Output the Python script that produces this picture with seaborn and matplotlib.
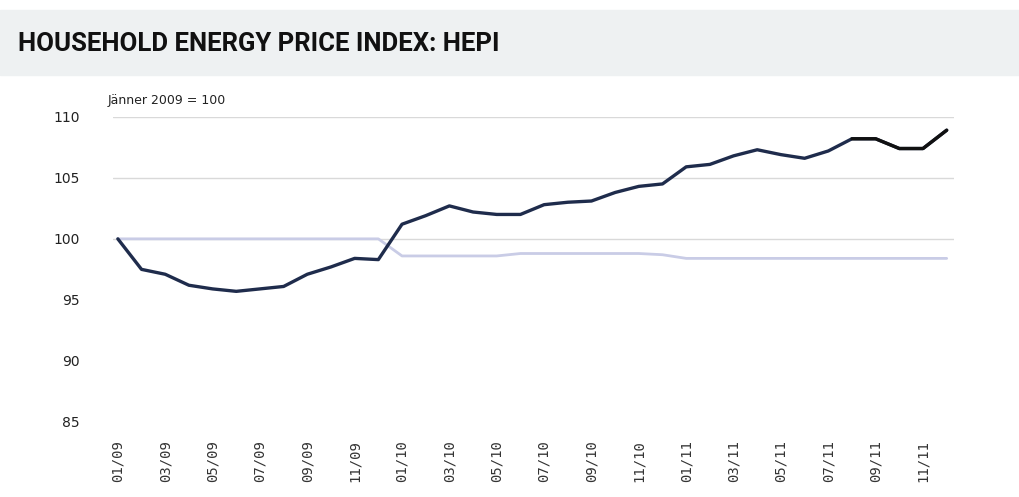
import matplotlib
matplotlib.use("Agg")
import matplotlib.pyplot as plt
import seaborn as sns
import pandas as pd
from matplotlib.patches import Rectangle

# -----------------------------
# Data
# -----------------------------
months = [f"{m:02d}/{y:02d}" for y in (9, 10, 11) for m in range(1, 13)]
hepi = [100.0, 97.5, 97.1, 96.2, 95.9, 95.7, 95.9, 96.1, 97.1, 97.7, 98.4, 98.3,
        101.2, 101.9, 102.7, 102.2, 102.0, 102.0, 102.8, 103.0, 103.1, 103.8, 104.3, 104.5,
        105.9, 106.1, 106.8, 107.3, 106.9, 106.6, 107.2, 108.2, 108.2, 107.4, 107.4, 108.9]
other = [100.0, 100.0, 100.0, 100.0, 100.0, 100.0, 100.0, 100.0, 100.0, 100.0, 100.0, 100.0,
         98.6, 98.6, 98.6, 98.6, 98.6, 98.8, 98.8, 98.8, 98.8, 98.8, 98.8, 98.7,
         98.4, 98.4, 98.4, 98.4, 98.4, 98.4, 98.4, 98.4, 98.4, 98.4, 98.4, 98.4]
yticks = [85, 90, 95, 100, 105, 110]
grid_levels = [100, 105, 110]
title = "HOUSEHOLD ENERGY PRICE INDEX: HEPI"
note = "Jänner 2009 = 100"

df = pd.DataFrame({"idx": range(len(months)), "month": months, "hepi": hepi, "other": other})

sns.set_style("white")

fig = plt.figure(figsize=(10.19, 4.97), dpi=100)
# grey band behind the title
fig.patches.append(Rectangle((0, 0.85), 1, 0.13, transform=fig.transFigure,
                             color="#eef1f2", zorder=0))
fig.text(0.018, 0.912, title, fontsize=18.5, fontweight="bold", va="center",
         family=["Roboto", "DejaVu Sans"], color="#111111")

ax = fig.add_axes([0.111, 0.151, 0.825, 0.614])

for v in grid_levels:
    ax.axhline(v, color="#d9d9d9", lw=1.0, zorder=0)

sns.lineplot(data=df, x="idx", y="other", ax=ax, color="#c9cce6", lw=2.0, zorder=2)
sns.lineplot(data=df, x="idx", y="hepi", ax=ax, color="#1f2c4c", lw=2.4, zorder=3)
sns.lineplot(data=df.iloc[31:], x="idx", y="hepi", ax=ax, color="#111111", lw=2.4, zorder=4)

ax.set_xlim(-0.2, 35.3)
ax.set_ylim(85, 110)
ax.set_yticks(yticks)
ax.set_yticklabels([str(t) for t in yticks], fontsize=10, color="#222222")
ax.set_xticks(df["idx"][::2])
ax.set_xticklabels(df["month"][::2], rotation=90, fontsize=10,
                   family="DejaVu Sans Mono", color="#333333")
ax.tick_params(axis="both", length=0)
ax.tick_params(axis="x", pad=13)
ax.tick_params(axis="y", pad=24)
ax.set_xlabel("")
ax.set_ylabel("")
sns.despine(ax=ax, left=True, bottom=True)

fig.text(0.106, 0.797, note, fontsize=9, color="#222222", va="center")

fig.savefig("out.png", dpi=100)
